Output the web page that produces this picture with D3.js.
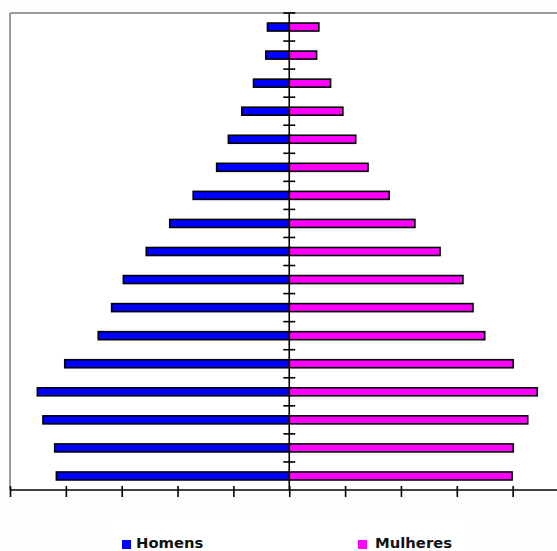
<!DOCTYPE html>
<html>
<head>
<meta charset="utf-8">
<script src="https://cdn.jsdelivr.net/npm/d3@7"></script>
<style>
  html, body { margin: 0; padding: 0; background: #fdfdfd; }
  svg { display: block; }
</style>
</head>
<body>
<svg id="chart" width="557" height="551"></svg>
<script>
// Age groups, oldest at the top
const ageGroups = ["80+", "75-79", "70-74", "65-69", "60-64", "55-59", "50-54", "45-49",
  "40-44", "35-39", "30-34", "25-29", "20-24", "15-19", "10-14", "5-9", "0-4"];
// Population share (%) per age group
const homens   = [0.39, 0.42, 0.64, 0.85, 1.09, 1.30, 1.72, 2.14, 2.56, 2.97, 3.18, 3.42, 4.02, 4.51, 4.41, 4.20, 4.17];
const mulheres = [0.53, 0.49, 0.74, 0.96, 1.19, 1.41, 1.79, 2.25, 2.70, 3.11, 3.29, 3.50, 4.01, 4.44, 4.27, 4.01, 3.99];
const xTicks = [-5, -4, -3, -2, -1, 0, 1, 2, 3, 4, 5];
const seriesNames = ["Homens", "Mulheres"];
const seriesColors = ["#0000ff", "#ff00ff"];

const svg = d3.select("#chart");
const W = 557;
const plotLeft = 10, plotTop = 13, plotBottom = 490;

const x = d3.scaleLinear().domain([-5, 5]).range([plotLeft, 568.5]);
const y = d3.scaleBand().domain(ageGroups).range([plotTop, plotBottom]);
const barH = 8;

// plot area
svg.append("rect").attr("x", plotLeft).attr("y", plotTop)
  .attr("width", W - plotLeft).attr("height", plotBottom - plotTop).attr("fill", "#ffffff");

// frame (top and left)
svg.append("line").attr("x1", plotLeft).attr("x2", W).attr("y1", plotTop).attr("y2", plotTop)
  .attr("stroke", "#9a9a9a").attr("stroke-width", 2);
svg.append("line").attr("x1", plotLeft).attr("x2", plotLeft).attr("y1", plotTop).attr("y2", plotBottom)
  .attr("stroke", "#9a9a9a").attr("stroke-width", 2);

const rows = ageGroups.map((g, i) => ({ g, h: homens[i], m: mulheres[i] }));

// men bars (left)
svg.append("g").selectAll("rect").data(rows).join("rect")
  .attr("x", d => x(-d.h))
  .attr("y", d => y(d.g) + y.bandwidth() / 2 - barH / 2)
  .attr("width", d => x(0) - x(-d.h))
  .attr("height", barH)
  .attr("fill", seriesColors[0])
  .attr("stroke", "#000").attr("stroke-width", 1.6);

// women bars (right)
svg.append("g").selectAll("rect").data(rows).join("rect")
  .attr("x", x(0))
  .attr("y", d => y(d.g) + y.bandwidth() / 2 - barH / 2)
  .attr("width", d => x(d.m) - x(0))
  .attr("height", barH)
  .attr("fill", seriesColors[1])
  .attr("stroke", "#000").attr("stroke-width", 1.6);

// central vertical axis with cross ticks at group boundaries
const vAxis = svg.append("g");
vAxis.append("line").attr("x1", x(0)).attr("x2", x(0)).attr("y1", plotTop).attr("y2", plotBottom)
  .attr("stroke", "#000").attr("stroke-width", 1.6);
vAxis.selectAll("line.tk").data(ageGroups).join("line").attr("class", "tk")
  .attr("x1", x(0) - 6).attr("x2", x(0) + 6)
  .attr("y1", d => y(d)).attr("y2", d => y(d))
  .attr("stroke", "#000").attr("stroke-width", 1.6);

// bottom axis with cross ticks
const xAxis = svg.append("g").attr("transform", `translate(0,${plotBottom})`)
  .call(d3.axisBottom(x).tickValues(xTicks).tickFormat("").tickSizeOuter(0).tickSizeInner(7));
xAxis.select(".domain").attr("stroke", "#000").attr("stroke-width", 1.6)
  .attr("d", `M${plotLeft},0H${W}`);
xAxis.selectAll(".tick line").attr("y1", -4).attr("y2", 7)
  .attr("stroke", "#000").attr("stroke-width", 1.6);

// legend
svg.append("rect").attr("x", 105).attr("y", 520).attr("width", 365).attr("height", 31)
  .attr("fill", "#ffffff");
const legendPos = [{ sx: 122, tx: 136 }, { sx: 358, tx: 375 }];
seriesNames.forEach((name, i) => {
  svg.append("rect").attr("x", legendPos[i].sx).attr("y", 540)
    .attr("width", 9).attr("height", 9).attr("fill", seriesColors[i]);
  svg.append("text").attr("x", legendPos[i].tx).attr("y", 547.5)
    .attr("font-family", "DejaVu Sans, Verdana, sans-serif")
    .attr("font-weight", "bold").attr("font-size", 14.8)
    .attr("fill", "#111").text(name);
});
</script>
</body>
</html>
